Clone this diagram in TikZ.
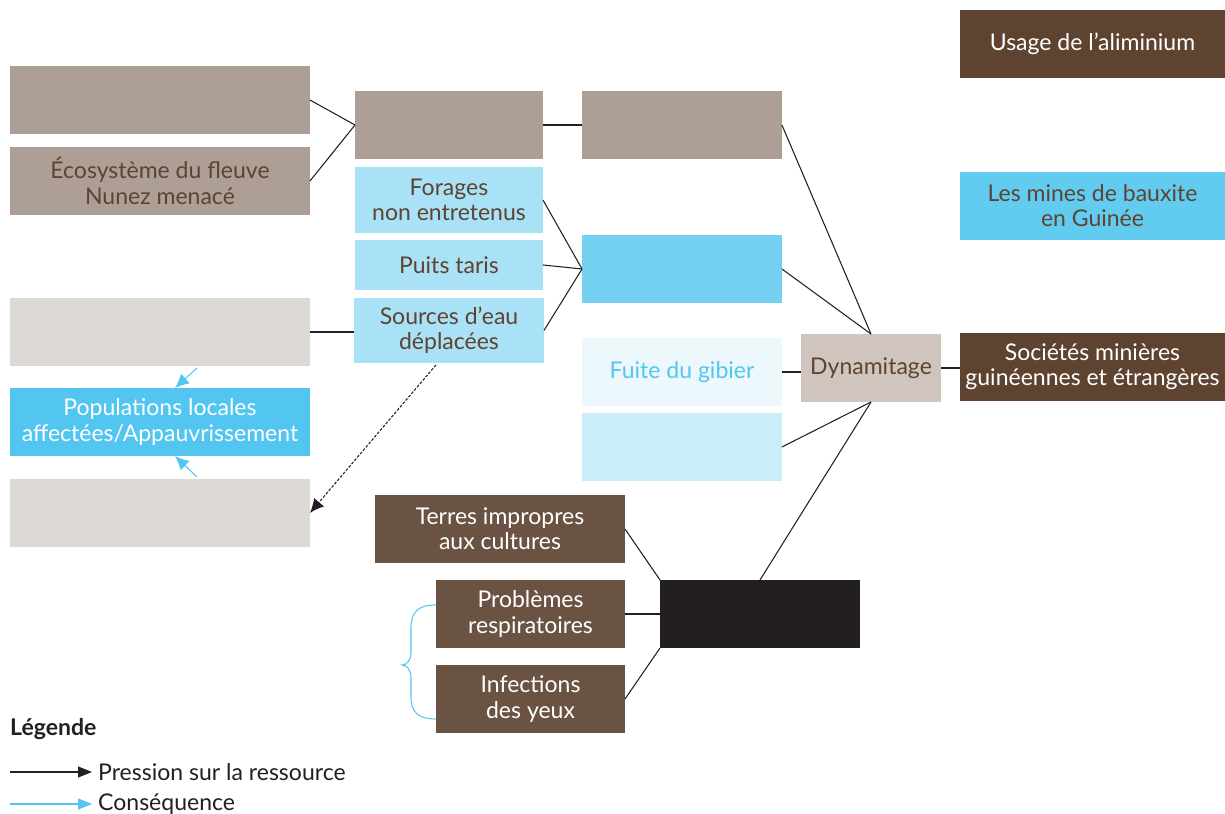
\documentclass[tikz,border=0pt]{standalone}
\usepackage{fontspec}
\setmainfont{Lato}
\usetikzlibrary{arrows.meta,positioning,calc}
\definecolor{taupe}{HTML}{AD9F95}
\definecolor{brun}{HTML}{5E4330}
\definecolor{brunclair}{HTML}{6B5343}
\definecolor{bleupale}{HTML}{A9E2F6}
\definecolor{bleumoyen}{HTML}{74D1F2}
\definecolor{bleuvif}{HTML}{52C5F0}
\definecolor{bleumine}{HTML}{62CCF0}
\definecolor{bleuglace}{HTML}{EDF8FD}
\definecolor{bleuciel}{HTML}{CBEDF8}
\definecolor{grisbeige}{HTML}{DDD9D5}
\definecolor{sable}{HTML}{CFC5BE}
\definecolor{noirdoux}{HTML}{231F20}
\tikzset{
  box/.style        = {rectangle,inner sep=0pt,outer sep=0pt,align=center,font=\fontsize{13.1}{14.3}\selectfont,minimum height=1.36cm},
  wide/.style       = {box,minimum width=6cm},
  mid/.style        = {box,minimum width=3.76cm},
  col/.style        = {box,minimum width=4cm},
  side/.style       = {box,minimum width=5.3cm},
  hlth/.style       = {box,minimum width=3.78cm,fill=brunclair,text=white},
  legtxt/.style     = {anchor=west,font=\fontsize{13.1}{14.3}\selectfont,text=noirdoux},
  link/.style       = {line width=0.6pt,draw=noirdoux},
  csq/.style        = {-{Latex[length=2.8mm,width=2.6mm]},line width=0.6pt,draw=bleuvif},
  hint/.style       = {-{Latex[length=2.8mm,width=2.6mm]},line width=0.6pt,dash pattern=on 1.6pt off 0.9pt,draw=noirdoux},
  legarrow/.style   = {-{Triangle[length=2.8mm,width=2.2mm]},line width=0.6pt},
}
\begin{document}
\begin{tikzpicture}[x=0.02cm,y=-0.02cm]
\useasboundingbox (0,0) rectangle (1225,814);
% left column
\node[wide,fill=taupe] (eco1) at (160,100) {};
\node[wide,fill=taupe,text=brun] (eco2) [below=0.26cm of eco1] {Écosystème du fleuve\\Nunez menacé};
\node[wide,fill=grisbeige] (pop1) at (160,332) {};
\node[wide,fill=bleuvif,text=white] (pop2) [below=0.44cm of pop1] {Populations locales\\affectées/Appauvrissement};
\node[wide,fill=grisbeige] (pop3) [below=0.46cm of pop2] {};
% water column
\node[mid,fill=taupe] (eau0) at (449,125) {};
\node[mid,fill=bleupale,text=brun,minimum height=1.32cm] (forage) [below=0.16cm of eau0] {Forages\\non entretenus};
\node[mid,fill=bleupale,text=brun,minimum height=1cm] (puits) [below=0.14cm of forage] {Puits taris};
\node[mid,fill=bleupale,text=brun,minimum height=1.3cm,minimum width=3.8cm] (source) [below=0.16cm of puits] {Sources d’eau\\déplacées};
% middle column
\node[col,fill=taupe] (mil1) [right=0.78cm of eau0] {};
\node[col,fill=bleumoyen] (mil2) at (682,269) {};
\node[col,fill=bleuglace,text=bleuvif] (gibier) at (682,372) {Fuite du gibier};
\node[col,fill=bleuciel] (mil4) [below=0.14cm of gibier] {};
\node[box,fill=sable,text=brun,minimum width=2.8cm] (dyna) at (871,368) {Dynamitage};
% right column
\node[side,fill=brun,text=white] (soc) at (1092.5,367) {Sociétés minières\\guinéennes et étrangères};
\node[side,fill=bleumine,text=brun] (mines) [above=1.86cm of soc] {Les mines de bauxite\\en Guinée};
\node[side,fill=brun,text=white] (alu) [above=1.88cm of mines] {Usage de l’aliminium};
% health
\node[box,fill=noirdoux,minimum width=4cm] (poussiere) at (760,614) {};
\node[box,fill=brunclair,text=white,minimum width=5cm] (terres) at (500,529) {Terres impropres\\aux cultures};
\node[hlth] (resp) [left=0.7cm of poussiere] {Problèmes\\respiratoires};
\node[hlth] (yeux) [below=0.34cm of resp] {Infections\\des yeux};

\draw[link] (eco1.east) -- (eau0.west);
\draw[link] (eco2.east) -- (eau0.west);
\draw[link] (eau0.east) -- (mil1.west);
\draw[link] (forage.east) -- (mil2.west);
\draw[link] (puits.east) -- (mil2.west);
\draw[link] (source.east) -- (mil2.west);
\draw[link] (pop1.east) -- (pop1.east -| source.west);
\draw[link] (mil1.east) -- (dyna.north);
\draw[link] (mil2.east) -- (dyna.north);
\draw[link] (gibier.east) -- (gibier.east -| dyna.west);
\draw[link] (mil4.east) -- (dyna.south);
\draw[link] (poussiere.north) -- (dyna.south);
\draw[link] (dyna.east) -- (dyna.east -| soc.west);
\draw[link] (terres.east) -- (poussiere.north west);
\draw[link] (resp.east) -- (poussiere.west);
\draw[link] (yeux.east) -- (poussiere.south west);

\draw[csq] ($(pop1.south)+(37,2)$) -- ($(pop2.north)+(15,0)$);
\draw[csq] ($(pop3.north)+(37,-2)$) -- ($(pop2.south)+(15,0)$);
\draw[hint] ($(source.south)+(-13,2)$) -- (pop3.east);

% brace
\draw[bleuvif,line width=0.6pt] (436,605) .. controls (418,605) and (411,612) .. (411,628) -- (411,652)
  .. controls (411,660) and (407,665) .. (402,665) .. controls (407,665) and (411,670) .. (411,678)
  -- (411,697) .. controls (411,712) and (418,719) .. (436,719);

% legend
\node[legtxt,font=\fontsize{13.1}{14.3}\selectfont\bfseries] (leg) at (4,729) {Légende};
\coordinate (p0) at (10,772);
\coordinate (c0) at (10,804);
\node[legtxt] (ptxt) at (92,772) {Pression sur la ressource};
\node[legtxt] (ctxt) at (92,804) {Conséquence};
\draw[legarrow,noirdoux] (p0) -- (ptxt.west);
\draw[legarrow,bleuvif] (c0) -- (ctxt.west);
\end{tikzpicture}
\end{document}
